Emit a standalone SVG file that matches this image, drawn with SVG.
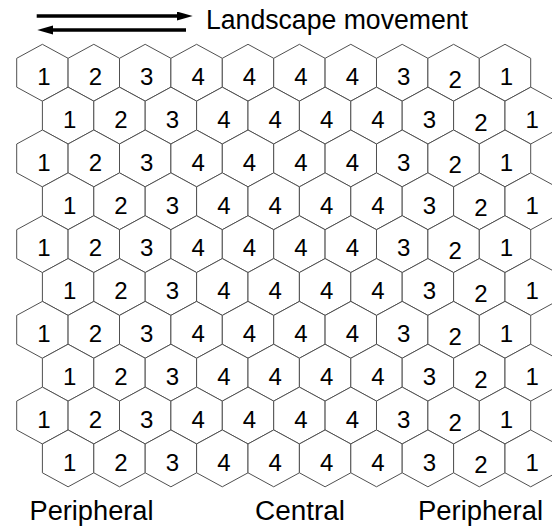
<svg xmlns="http://www.w3.org/2000/svg" xmlns:xlink="http://www.w3.org/1999/xlink" width="552" height="529" viewBox="0 0 552 529">
<style>
.hx{fill:#fff;stroke:#505050;stroke-width:1}
.n{font-family:"Liberation Sans",Arial,sans-serif;font-size:24px;fill:#000;text-anchor:middle}
.lbl{font-family:"Liberation Sans",Arial,sans-serif;font-size:27px;fill:#000}
.arr{stroke:#000;stroke-width:3.5;fill:none}
</style>
<defs>
<polygon id="hex" class="hx" points="0,-28.43 25.7,-14.43 25.7,14.42 0,28.43 -25.7,14.42 -25.7,-14.43"/>
<marker id="ah" markerUnits="userSpaceOnUse" markerWidth="17" markerHeight="10" refX="3.3" refY="4.5" orient="auto"><path d="M0,0 L16,4.5 L0,9 z" fill="#000"/></marker>
</defs>
<rect width="552" height="529" fill="#fff"/>
<g id="connectors">
<line class="arr" x1="36.7" y1="16" x2="180" y2="16" marker-end="url(#ah)"/>
<line class="arr" x1="186" y1="30" x2="50" y2="30" marker-end="url(#ah)"/>
</g>
<g id="row0">
<g id="h0-0" transform="translate(42.4,72.73)"><use href="#hex"/><text class="n" x="1.5" y="12.3">1</text></g>
<g id="h0-1" transform="translate(93.8,72.73)"><use href="#hex"/><text class="n" x="1.5" y="12.3">2</text></g>
<g id="h0-2" transform="translate(145.2,72.73)"><use href="#hex"/><text class="n" x="1.5" y="12.3">3</text></g>
<g id="h0-3" transform="translate(196.6,72.73)"><use href="#hex"/><text class="n" x="1.5" y="12.3">4</text></g>
<g id="h0-4" transform="translate(248,72.73)"><use href="#hex"/><text class="n" x="1.5" y="12.3">4</text></g>
<g id="h0-5" transform="translate(299.4,72.73)"><use href="#hex"/><text class="n" x="1.5" y="12.3">4</text></g>
<g id="h0-6" transform="translate(350.8,72.73)"><use href="#hex"/><text class="n" x="1.5" y="12.3">4</text></g>
<g id="h0-7" transform="translate(402.2,72.73)"><use href="#hex"/><text class="n" x="1.5" y="12.3">3</text></g>
<g id="h0-8" transform="translate(453.6,72.73)"><use href="#hex"/><text class="n" x="1.5" y="15">2</text></g>
<g id="h0-9" transform="translate(505,72.73)"><use href="#hex"/><text class="n" x="1.5" y="12.3">1</text></g>
</g>
<g id="row1">
<g id="h1-0" transform="translate(68.1,115.58)"><use href="#hex"/><text class="n" x="1.5" y="12.3">1</text></g>
<g id="h1-1" transform="translate(119.5,115.58)"><use href="#hex"/><text class="n" x="1.5" y="12.3">2</text></g>
<g id="h1-2" transform="translate(170.9,115.58)"><use href="#hex"/><text class="n" x="1.5" y="12.3">3</text></g>
<g id="h1-3" transform="translate(222.3,115.58)"><use href="#hex"/><text class="n" x="1.5" y="12.3">4</text></g>
<g id="h1-4" transform="translate(273.7,115.58)"><use href="#hex"/><text class="n" x="1.5" y="12.3">4</text></g>
<g id="h1-5" transform="translate(325.1,115.58)"><use href="#hex"/><text class="n" x="1.5" y="12.3">4</text></g>
<g id="h1-6" transform="translate(376.5,115.58)"><use href="#hex"/><text class="n" x="1.5" y="12.3">4</text></g>
<g id="h1-7" transform="translate(427.9,115.58)"><use href="#hex"/><text class="n" x="1.5" y="12.3">3</text></g>
<g id="h1-8" transform="translate(479.3,115.58)"><use href="#hex"/><text class="n" x="1.5" y="15">2</text></g>
<g id="h1-9" transform="translate(530.7,115.58)"><use href="#hex"/><text class="n" x="1.5" y="12.3">1</text></g>
</g>
<g id="row2">
<g id="h2-0" transform="translate(42.4,158.43)"><use href="#hex"/><text class="n" x="1.5" y="12.3">1</text></g>
<g id="h2-1" transform="translate(93.8,158.43)"><use href="#hex"/><text class="n" x="1.5" y="12.3">2</text></g>
<g id="h2-2" transform="translate(145.2,158.43)"><use href="#hex"/><text class="n" x="1.5" y="12.3">3</text></g>
<g id="h2-3" transform="translate(196.6,158.43)"><use href="#hex"/><text class="n" x="1.5" y="12.3">4</text></g>
<g id="h2-4" transform="translate(248,158.43)"><use href="#hex"/><text class="n" x="1.5" y="12.3">4</text></g>
<g id="h2-5" transform="translate(299.4,158.43)"><use href="#hex"/><text class="n" x="1.5" y="12.3">4</text></g>
<g id="h2-6" transform="translate(350.8,158.43)"><use href="#hex"/><text class="n" x="1.5" y="12.3">4</text></g>
<g id="h2-7" transform="translate(402.2,158.43)"><use href="#hex"/><text class="n" x="1.5" y="12.3">3</text></g>
<g id="h2-8" transform="translate(453.6,158.43)"><use href="#hex"/><text class="n" x="1.5" y="15">2</text></g>
<g id="h2-9" transform="translate(505,158.43)"><use href="#hex"/><text class="n" x="1.5" y="12.3">1</text></g>
</g>
<g id="row3">
<g id="h3-0" transform="translate(68.1,201.28)"><use href="#hex"/><text class="n" x="1.5" y="12.3">1</text></g>
<g id="h3-1" transform="translate(119.5,201.28)"><use href="#hex"/><text class="n" x="1.5" y="12.3">2</text></g>
<g id="h3-2" transform="translate(170.9,201.28)"><use href="#hex"/><text class="n" x="1.5" y="12.3">3</text></g>
<g id="h3-3" transform="translate(222.3,201.28)"><use href="#hex"/><text class="n" x="1.5" y="12.3">4</text></g>
<g id="h3-4" transform="translate(273.7,201.28)"><use href="#hex"/><text class="n" x="1.5" y="12.3">4</text></g>
<g id="h3-5" transform="translate(325.1,201.28)"><use href="#hex"/><text class="n" x="1.5" y="12.3">4</text></g>
<g id="h3-6" transform="translate(376.5,201.28)"><use href="#hex"/><text class="n" x="1.5" y="12.3">4</text></g>
<g id="h3-7" transform="translate(427.9,201.28)"><use href="#hex"/><text class="n" x="1.5" y="12.3">3</text></g>
<g id="h3-8" transform="translate(479.3,201.28)"><use href="#hex"/><text class="n" x="1.5" y="15">2</text></g>
<g id="h3-9" transform="translate(530.7,201.28)"><use href="#hex"/><text class="n" x="1.5" y="12.3">1</text></g>
</g>
<g id="row4">
<g id="h4-0" transform="translate(42.4,244.13)"><use href="#hex"/><text class="n" x="1.5" y="12.3">1</text></g>
<g id="h4-1" transform="translate(93.8,244.13)"><use href="#hex"/><text class="n" x="1.5" y="12.3">2</text></g>
<g id="h4-2" transform="translate(145.2,244.13)"><use href="#hex"/><text class="n" x="1.5" y="12.3">3</text></g>
<g id="h4-3" transform="translate(196.6,244.13)"><use href="#hex"/><text class="n" x="1.5" y="12.3">4</text></g>
<g id="h4-4" transform="translate(248,244.13)"><use href="#hex"/><text class="n" x="1.5" y="12.3">4</text></g>
<g id="h4-5" transform="translate(299.4,244.13)"><use href="#hex"/><text class="n" x="1.5" y="12.3">4</text></g>
<g id="h4-6" transform="translate(350.8,244.13)"><use href="#hex"/><text class="n" x="1.5" y="12.3">4</text></g>
<g id="h4-7" transform="translate(402.2,244.13)"><use href="#hex"/><text class="n" x="1.5" y="12.3">3</text></g>
<g id="h4-8" transform="translate(453.6,244.13)"><use href="#hex"/><text class="n" x="1.5" y="15">2</text></g>
<g id="h4-9" transform="translate(505,244.13)"><use href="#hex"/><text class="n" x="1.5" y="12.3">1</text></g>
</g>
<g id="row5">
<g id="h5-0" transform="translate(68.1,286.98)"><use href="#hex"/><text class="n" x="1.5" y="12.3">1</text></g>
<g id="h5-1" transform="translate(119.5,286.98)"><use href="#hex"/><text class="n" x="1.5" y="12.3">2</text></g>
<g id="h5-2" transform="translate(170.9,286.98)"><use href="#hex"/><text class="n" x="1.5" y="12.3">3</text></g>
<g id="h5-3" transform="translate(222.3,286.98)"><use href="#hex"/><text class="n" x="1.5" y="12.3">4</text></g>
<g id="h5-4" transform="translate(273.7,286.98)"><use href="#hex"/><text class="n" x="1.5" y="12.3">4</text></g>
<g id="h5-5" transform="translate(325.1,286.98)"><use href="#hex"/><text class="n" x="1.5" y="12.3">4</text></g>
<g id="h5-6" transform="translate(376.5,286.98)"><use href="#hex"/><text class="n" x="1.5" y="12.3">4</text></g>
<g id="h5-7" transform="translate(427.9,286.98)"><use href="#hex"/><text class="n" x="1.5" y="12.3">3</text></g>
<g id="h5-8" transform="translate(479.3,286.98)"><use href="#hex"/><text class="n" x="1.5" y="15">2</text></g>
<g id="h5-9" transform="translate(530.7,286.98)"><use href="#hex"/><text class="n" x="1.5" y="12.3">1</text></g>
</g>
<g id="row6">
<g id="h6-0" transform="translate(42.4,329.83)"><use href="#hex"/><text class="n" x="1.5" y="12.3">1</text></g>
<g id="h6-1" transform="translate(93.8,329.83)"><use href="#hex"/><text class="n" x="1.5" y="12.3">2</text></g>
<g id="h6-2" transform="translate(145.2,329.83)"><use href="#hex"/><text class="n" x="1.5" y="12.3">3</text></g>
<g id="h6-3" transform="translate(196.6,329.83)"><use href="#hex"/><text class="n" x="1.5" y="12.3">4</text></g>
<g id="h6-4" transform="translate(248,329.83)"><use href="#hex"/><text class="n" x="1.5" y="12.3">4</text></g>
<g id="h6-5" transform="translate(299.4,329.83)"><use href="#hex"/><text class="n" x="1.5" y="12.3">4</text></g>
<g id="h6-6" transform="translate(350.8,329.83)"><use href="#hex"/><text class="n" x="1.5" y="12.3">4</text></g>
<g id="h6-7" transform="translate(402.2,329.83)"><use href="#hex"/><text class="n" x="1.5" y="12.3">3</text></g>
<g id="h6-8" transform="translate(453.6,329.83)"><use href="#hex"/><text class="n" x="1.5" y="15">2</text></g>
<g id="h6-9" transform="translate(505,329.83)"><use href="#hex"/><text class="n" x="1.5" y="12.3">1</text></g>
</g>
<g id="row7">
<g id="h7-0" transform="translate(68.1,372.68)"><use href="#hex"/><text class="n" x="1.5" y="12.3">1</text></g>
<g id="h7-1" transform="translate(119.5,372.68)"><use href="#hex"/><text class="n" x="1.5" y="12.3">2</text></g>
<g id="h7-2" transform="translate(170.9,372.68)"><use href="#hex"/><text class="n" x="1.5" y="12.3">3</text></g>
<g id="h7-3" transform="translate(222.3,372.68)"><use href="#hex"/><text class="n" x="1.5" y="12.3">4</text></g>
<g id="h7-4" transform="translate(273.7,372.68)"><use href="#hex"/><text class="n" x="1.5" y="12.3">4</text></g>
<g id="h7-5" transform="translate(325.1,372.68)"><use href="#hex"/><text class="n" x="1.5" y="12.3">4</text></g>
<g id="h7-6" transform="translate(376.5,372.68)"><use href="#hex"/><text class="n" x="1.5" y="12.3">4</text></g>
<g id="h7-7" transform="translate(427.9,372.68)"><use href="#hex"/><text class="n" x="1.5" y="12.3">3</text></g>
<g id="h7-8" transform="translate(479.3,372.68)"><use href="#hex"/><text class="n" x="1.5" y="15">2</text></g>
<g id="h7-9" transform="translate(530.7,372.68)"><use href="#hex"/><text class="n" x="1.5" y="12.3">1</text></g>
</g>
<g id="row8">
<g id="h8-0" transform="translate(42.4,415.53)"><use href="#hex"/><text class="n" x="1.5" y="12.3">1</text></g>
<g id="h8-1" transform="translate(93.8,415.53)"><use href="#hex"/><text class="n" x="1.5" y="12.3">2</text></g>
<g id="h8-2" transform="translate(145.2,415.53)"><use href="#hex"/><text class="n" x="1.5" y="12.3">3</text></g>
<g id="h8-3" transform="translate(196.6,415.53)"><use href="#hex"/><text class="n" x="1.5" y="12.3">4</text></g>
<g id="h8-4" transform="translate(248,415.53)"><use href="#hex"/><text class="n" x="1.5" y="12.3">4</text></g>
<g id="h8-5" transform="translate(299.4,415.53)"><use href="#hex"/><text class="n" x="1.5" y="12.3">4</text></g>
<g id="h8-6" transform="translate(350.8,415.53)"><use href="#hex"/><text class="n" x="1.5" y="12.3">4</text></g>
<g id="h8-7" transform="translate(402.2,415.53)"><use href="#hex"/><text class="n" x="1.5" y="12.3">3</text></g>
<g id="h8-8" transform="translate(453.6,415.53)"><use href="#hex"/><text class="n" x="1.5" y="15">2</text></g>
<g id="h8-9" transform="translate(505,415.53)"><use href="#hex"/><text class="n" x="1.5" y="12.3">1</text></g>
</g>
<g id="row9">
<g id="h9-0" transform="translate(68.1,458.38)"><use href="#hex"/><text class="n" x="1.5" y="12.3">1</text></g>
<g id="h9-1" transform="translate(119.5,458.38)"><use href="#hex"/><text class="n" x="1.5" y="12.3">2</text></g>
<g id="h9-2" transform="translate(170.9,458.38)"><use href="#hex"/><text class="n" x="1.5" y="12.3">3</text></g>
<g id="h9-3" transform="translate(222.3,458.38)"><use href="#hex"/><text class="n" x="1.5" y="12.3">4</text></g>
<g id="h9-4" transform="translate(273.7,458.38)"><use href="#hex"/><text class="n" x="1.5" y="12.3">4</text></g>
<g id="h9-5" transform="translate(325.1,458.38)"><use href="#hex"/><text class="n" x="1.5" y="12.3">4</text></g>
<g id="h9-6" transform="translate(376.5,458.38)"><use href="#hex"/><text class="n" x="1.5" y="12.3">4</text></g>
<g id="h9-7" transform="translate(427.9,458.38)"><use href="#hex"/><text class="n" x="1.5" y="12.3">3</text></g>
<g id="h9-8" transform="translate(479.3,458.38)"><use href="#hex"/><text class="n" x="1.5" y="15">2</text></g>
<g id="h9-9" transform="translate(530.7,458.38)"><use href="#hex"/><text class="n" x="1.5" y="12.3">1</text></g>
</g>
<g id="labels">
<text class="lbl" x="206" y="29" textLength="262" lengthAdjust="spacingAndGlyphs">Landscape movement</text>
<text class="lbl" x="29.5" y="520" textLength="124" lengthAdjust="spacingAndGlyphs">Peripheral</text>
<text class="lbl" x="255" y="520" textLength="90" lengthAdjust="spacingAndGlyphs">Central</text>
<text class="lbl" x="418" y="520" textLength="125" lengthAdjust="spacingAndGlyphs">Peripheral</text>
</g>
</svg>
